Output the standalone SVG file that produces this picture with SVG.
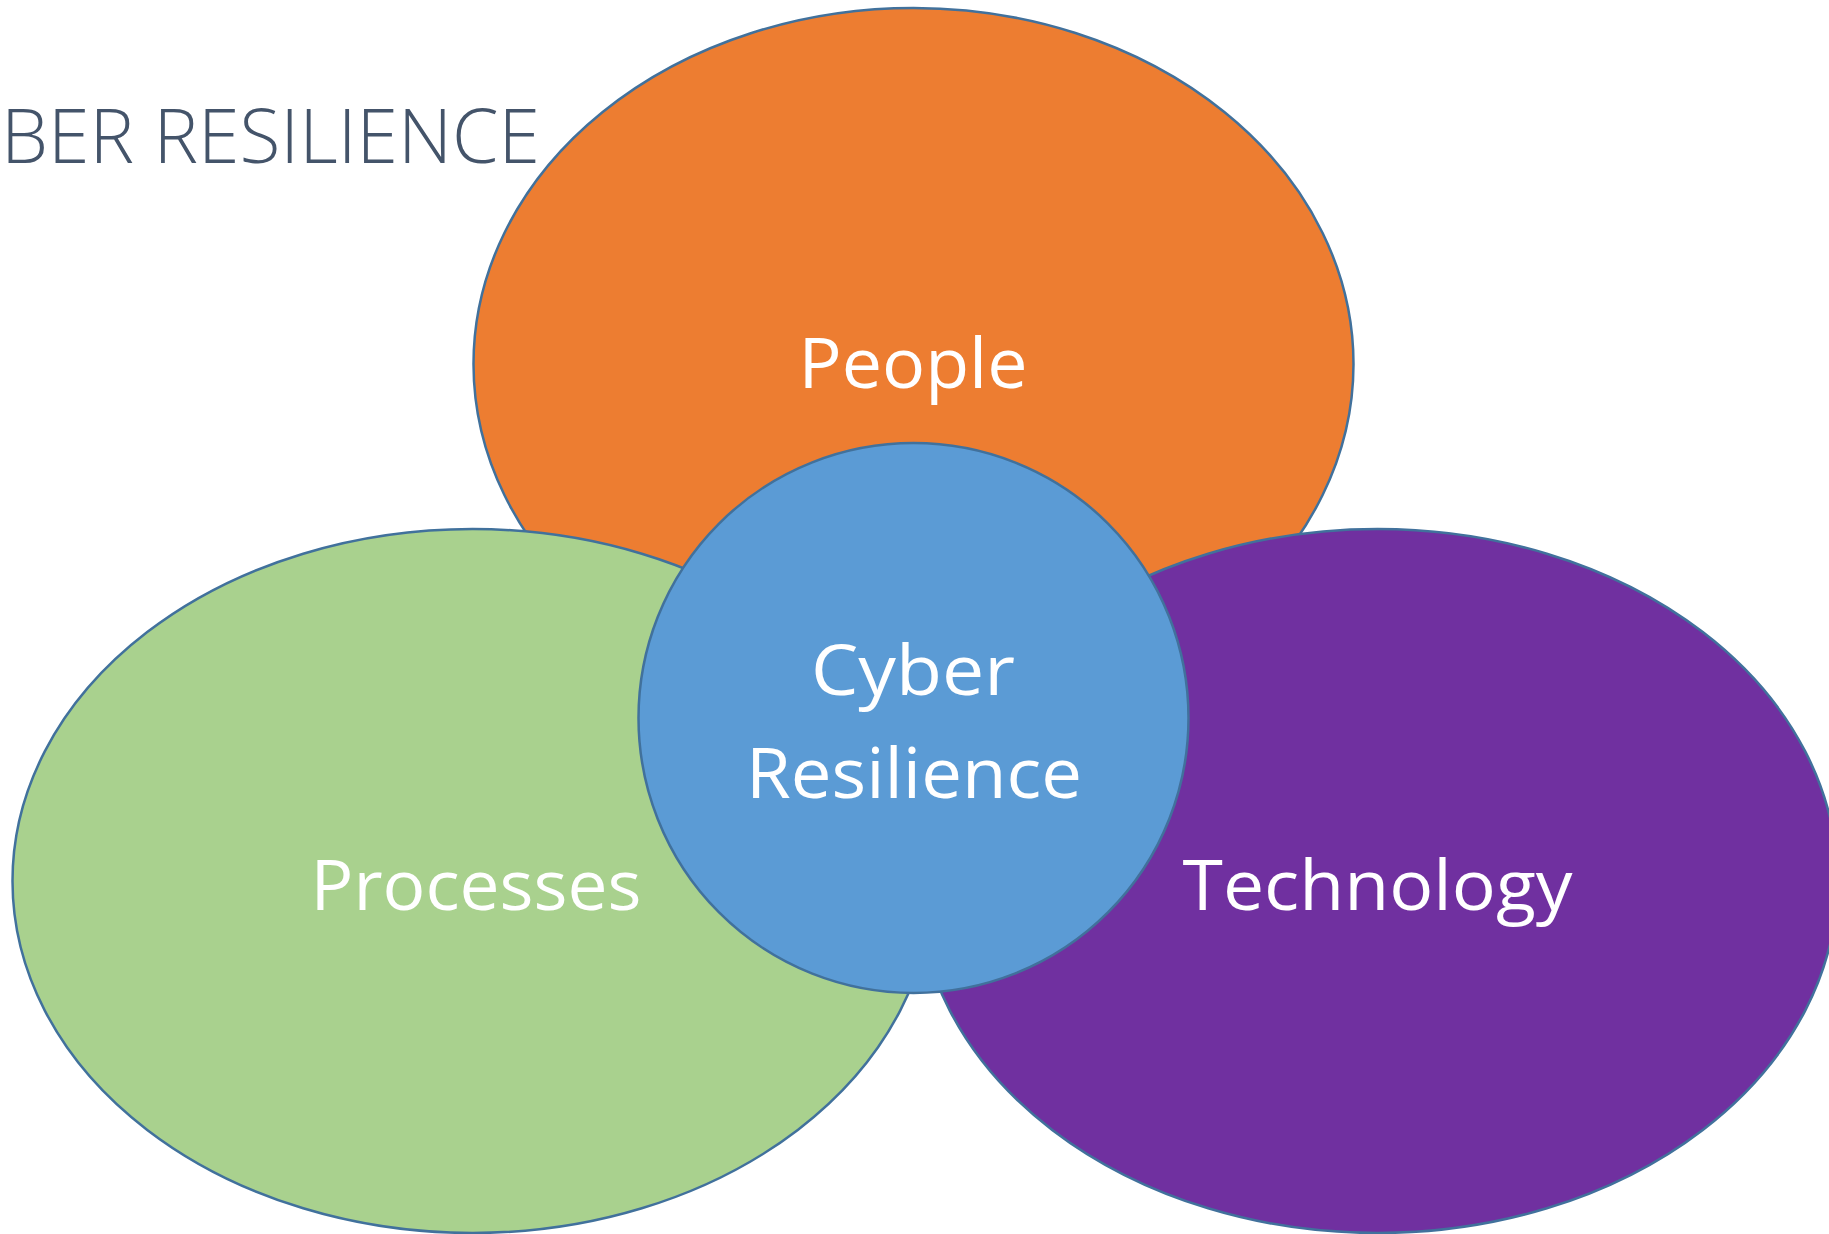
<svg xmlns="http://www.w3.org/2000/svg" width="1829" height="1234" viewBox="0 0 1829 1234">
<style>
.shape{stroke:#41719C;stroke-width:2.5}
.lbl{font-family:"Open Sans","Liberation Sans",sans-serif;font-size:70px;fill:#FFFFFF;text-anchor:middle}
.title{font-family:"Open Sans","Liberation Sans",sans-serif;font-weight:300;font-size:75px;fill:#44546A}
</style>
<rect width="1829" height="1234" fill="#FFFFFF"/>
<text class="title" x="1" y="163" textLength="539" lengthAdjust="spacingAndGlyphs">BER RESILIENCE</text>
<g id="people">
<ellipse class="shape" cx="913.5" cy="364" rx="440" ry="356" fill="#ED7D31"/>
<text class="lbl" x="913" y="388" textLength="229" lengthAdjust="spacingAndGlyphs">People</text>
</g>
<g id="processes">
<ellipse class="shape" cx="472.5" cy="881" rx="460" ry="352" fill="#A9D18E"/>
<text class="lbl" x="476" y="910" textLength="331" lengthAdjust="spacingAndGlyphs">Processes</text>
</g>
<g id="technology">
<ellipse class="shape" cx="1377.5" cy="881" rx="460" ry="352" fill="#7030A0"/>
<text class="lbl" x="1377.5" y="910" textLength="390" lengthAdjust="spacingAndGlyphs">Technology</text>
</g>
<g id="cyber-resilience">
<circle class="shape" cx="913.5" cy="718" r="275" fill="#5B9BD5"/>
<text class="lbl" x="913" y="695" textLength="204" lengthAdjust="spacingAndGlyphs">Cyber</text>
<text class="lbl" x="914" y="798" textLength="336" lengthAdjust="spacingAndGlyphs">Resilience</text>
</g>
<g id="connectors"/>
</svg>
